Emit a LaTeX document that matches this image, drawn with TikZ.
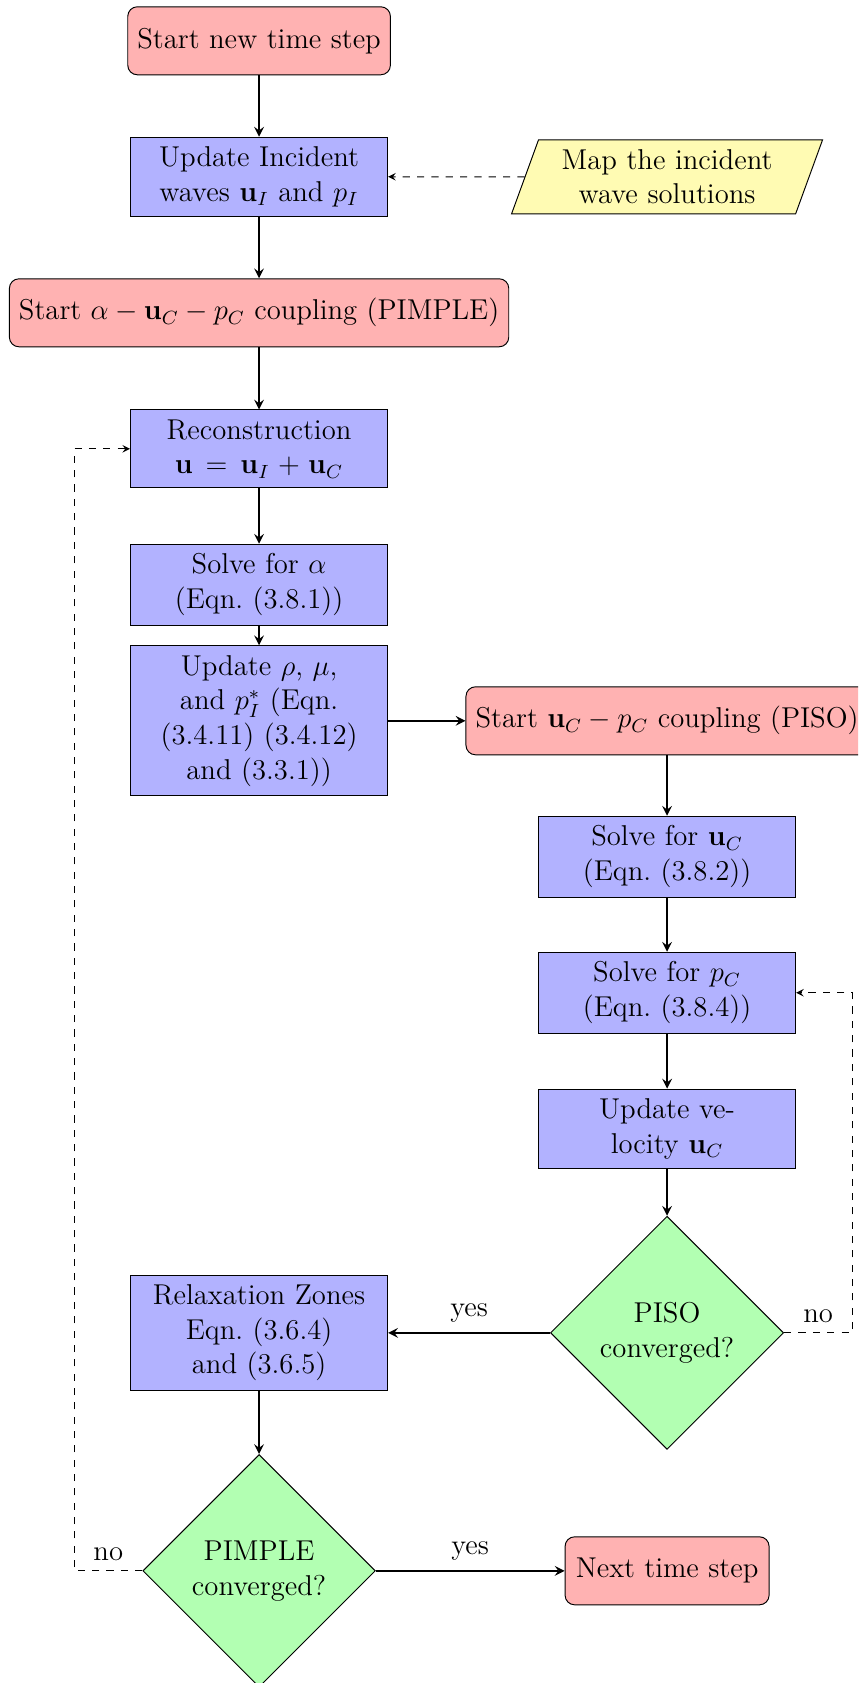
\documentclass[tikz,border=0pt,12pt]{standalone}
\usepackage{tikz}
\usepackage{amsmath}
\usetikzlibrary{shapes.geometric, positioning}

\begin{document}
\begin{tikzpicture}[node distance=2cm, >=stealth,
    startstop/.style = {rectangle, rounded corners, minimum width=3cm, minimum height=1cm, text centered, draw=black, fill=red!30},
    io/.style = {trapezium, trapezium left angle=70, trapezium right angle=110, minimum width=3cm, minimum height=1cm, text width=3.5cm, text centered, draw=black, fill=yellow!30},
    process/.style = {rectangle, minimum width=3cm, minimum height=1cm, text width=3.5cm, text centered, draw=black, fill=blue!30},
    decision/.style = {diamond, align=center, draw=black, fill=green!30},
    arrow/.style = {thick, ->},
    back/.style = {dashed, ->}]
        \clip (-3.81,0.6) rectangle (8.81,-24.15);
        \node[startstop] (1) {Start new time step};
        \node[process] (2) [below of=1] {Update Incident waves $\mathbf{u}_I$ and $p_I$};
        \node[io] (3) [right of=2, node distance=6cm] {Map the incident wave solutions};
        \node[startstop] (4) [below of=2] {Start $\alpha - \mathbf{u}_C - p_C$ coupling (PIMPLE)};
        \node[process] (5) [below of=4] {Reconstruction $\mathbf{u} = \mathbf{u}_I + \mathbf{u}_C$};
        \node[process] (6) [below of=5] {Solve for $\alpha$ (Eqn.~(3.8.1))};
        \node[process] (7) [below of=6] {Update $\rho$, $\mu$, and $p^*_I$ (Eqn. (3.4.11) (3.4.12) and (3.3.1))};
        \node[startstop] (8) [right of=7, node distance=6cm] {Start $\mathbf{u}_C - p_C$ coupling (PISO)};
        \node[process] (9) [below of=8] {Solve for $\mathbf{u}_C$ (Eqn.~(3.8.2))};
        \node[process] (10) [below of=9] {Solve for $p_C$ (Eqn.~(3.8.4))};
        \node[process] (11) [below of=10] {Update velocity $\mathbf{u}_C$};
        \node[decision] (12) [below of=11, node distance=3cm] {PISO\\converged?};
        \node[process] (13) [left of=12, node distance=6cm] {Relaxation Zones Eqn.~(3.6.4) and (3.6.5)};
        \node[decision] (14) [below of=13, node distance=3.5cm] {PIMPLE\\converged?};
        \node[startstop] (15) [right of=14, node distance=6cm] {Next time step};
        \draw[arrow] (1) -- (2);
        \draw[back] (3) -- (2);
        \draw[arrow] (2) -- (4);
        \draw[arrow] (4) -- (5);
        \draw[arrow] (5) -- (6);
        \draw[arrow] (6) -- (7);
        \draw[arrow] (7) -- (8);
        \draw[arrow] (8) -- (9);
        \draw[arrow] (9) -- (10);
        \draw[arrow] (10) -- (11);
        \draw[arrow] (11) -- (12);
        \draw[arrow] (12) -- node[above] {yes} (13);
        \draw[back] (12.east) -- node[above] {no} ++(1,0) |- (10.east);
        \draw[arrow] (13) -- (14);
        \draw[arrow] (14) -- node[above] {yes} (15);
        \draw[back] (14.west) -- node[above] {no} ++(-1,0) |- (5.west);
    \end{tikzpicture}
\end{document}
